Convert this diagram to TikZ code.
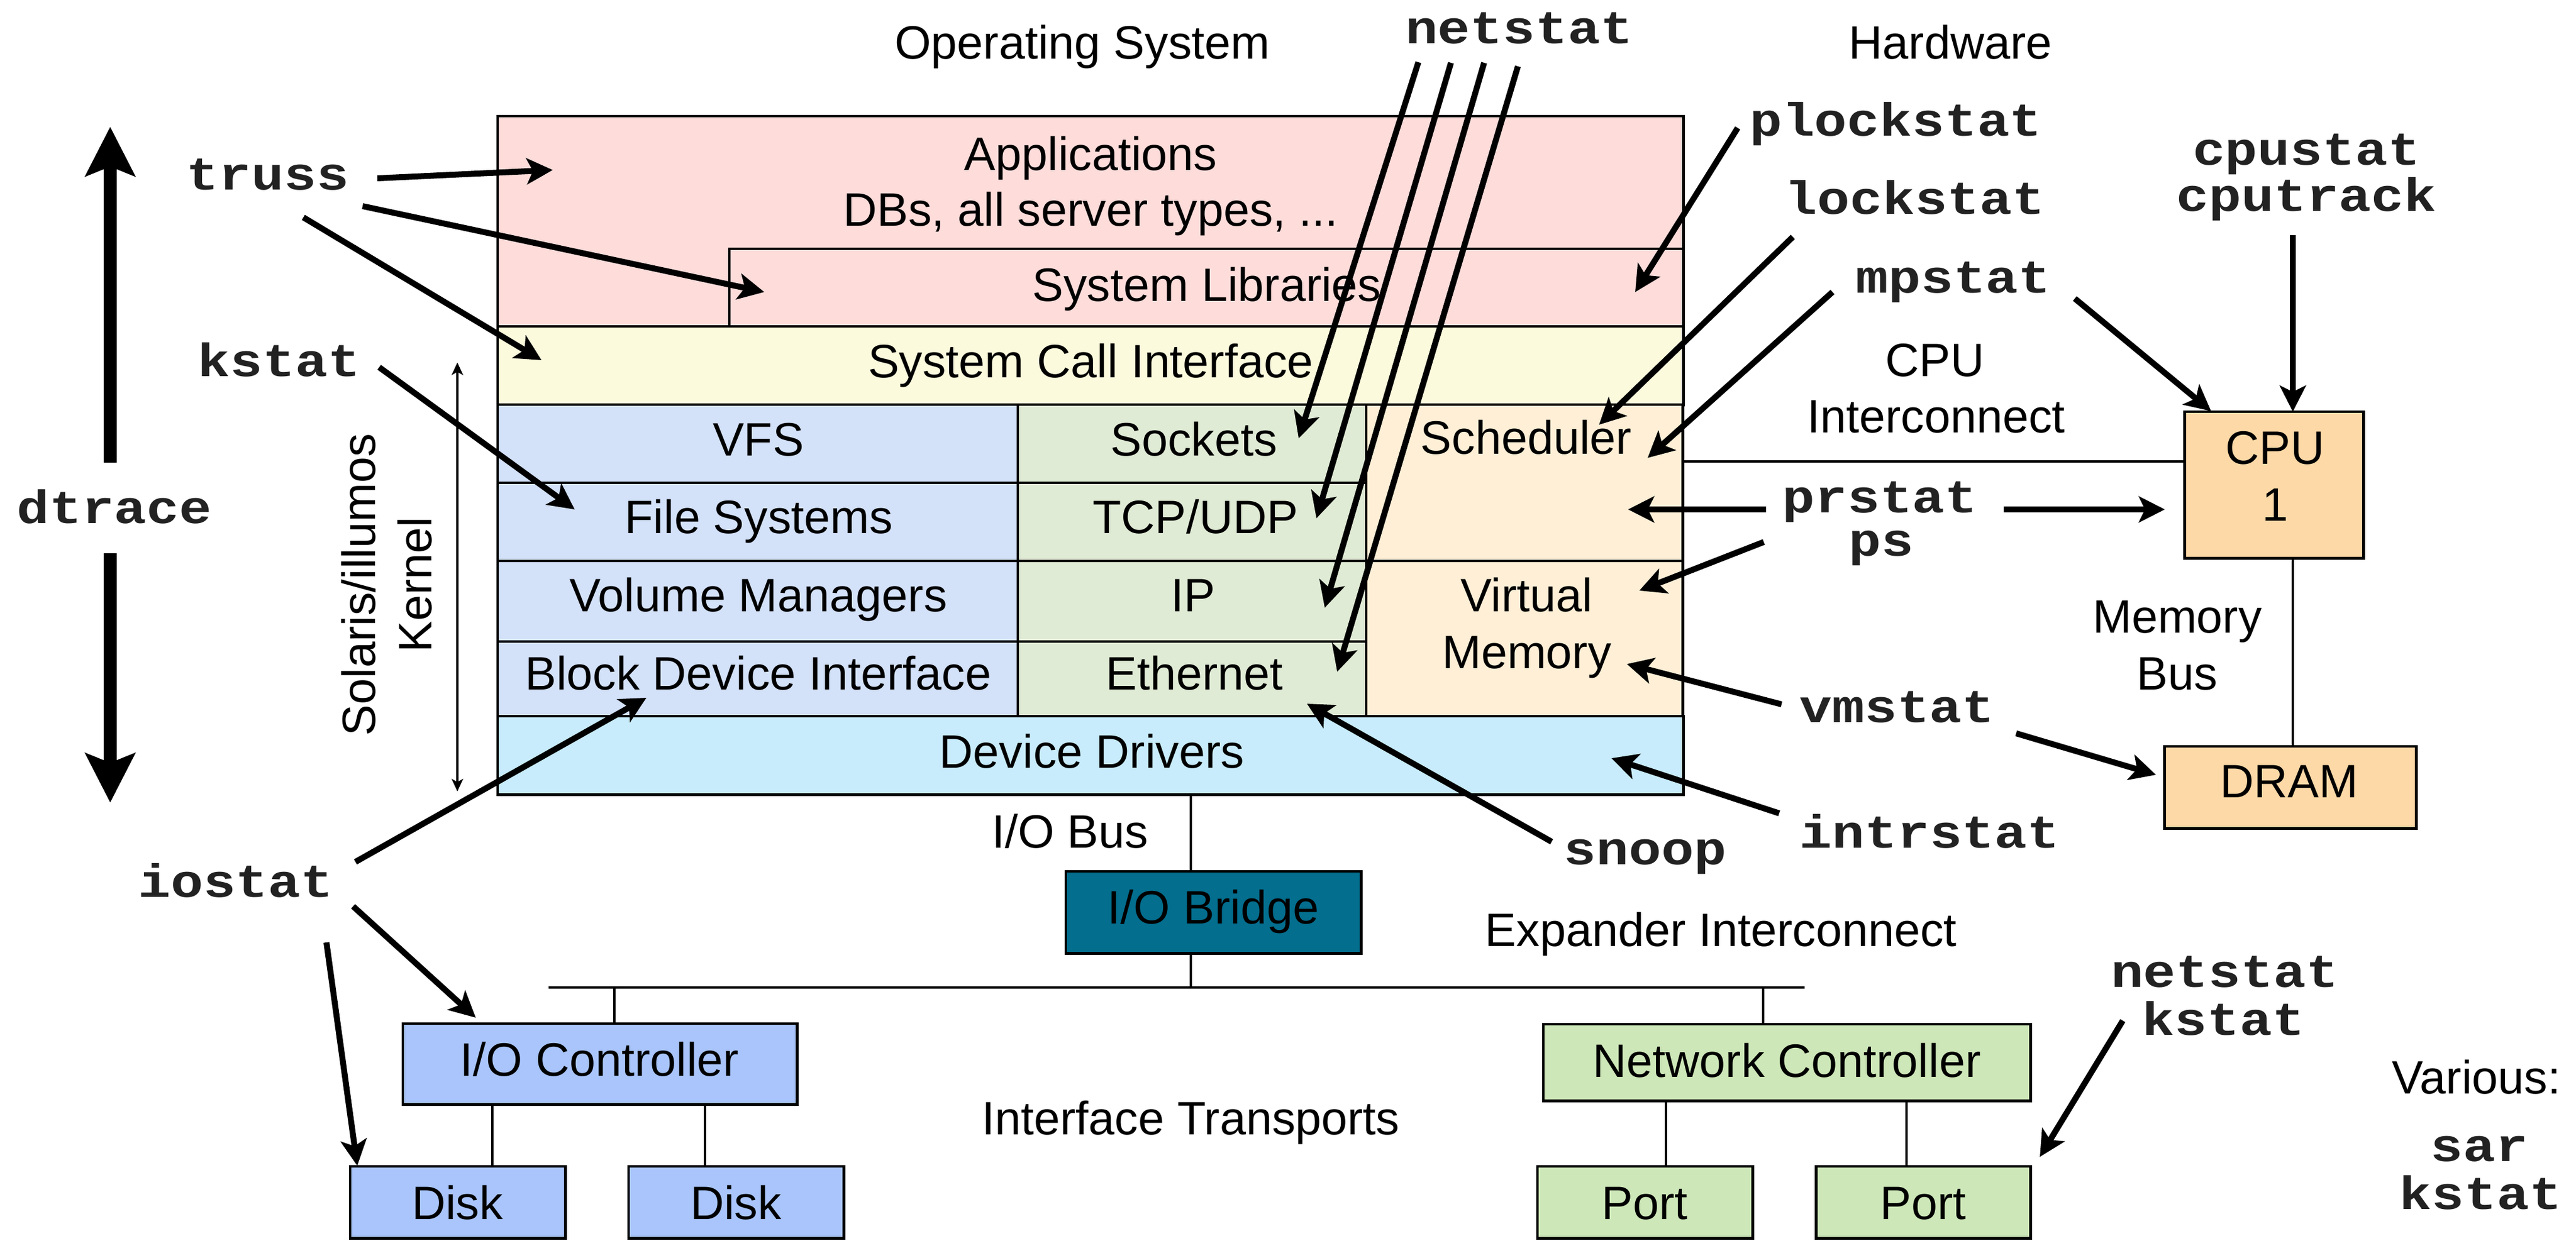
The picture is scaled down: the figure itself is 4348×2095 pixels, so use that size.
\documentclass[tikz,border=0pt]{standalone}
\usepackage{fontspec}
\setmainfont{Liberation Sans}
\newfontfamily\monof[FakeStretch=1.16]{Liberation Mono}
\usetikzlibrary{arrows.meta,calc}
\definecolor{apppink}{HTML}{FDDCDA}
\definecolor{sciyellow}{HTML}{FCFADC}
\definecolor{fsblue}{HTML}{D3E1F9}
\definecolor{netgreen}{HTML}{E0EBD5}
\definecolor{cpuorange}{HTML}{FEEFD6}
\definecolor{ddcyan}{HTML}{C8ECFB}
\definecolor{bridgeteal}{HTML}{036E8E}
\definecolor{ioblue}{HTML}{A9C5FB}
\definecolor{nicgreen}{HTML}{CDE7B8}
\definecolor{hworange}{HTML}{FDD9A7}
\definecolor{labelgray}{HTML}{222222}
\tikzset{
  cell/.style={draw=black, line width=1.4pt, rectangle, anchor=north west, inner sep=0pt, outer sep=0pt},
  txt/.style={font=\fontsize{22.5}{27}\selectfont, inner sep=0pt, anchor=base},
  mono/.style={font=\monof\bfseries\fontsize{22.4}{27}\selectfont, text=labelgray, inner sep=0pt, anchor=base},
  arr/.style={line width=2.85pt, -{Stealth[length=12.5pt,width=12.5pt,inset=3pt]}},
  bigarr/.style={line width=6.5pt, -{Stealth[length=23.6pt,width=23.6pt,inset=4.5pt]}},
  thinarr/.style={line width=0.9pt, {Stealth[length=6pt,width=5.5pt,inset=1.5pt]}-{Stealth[length=6pt,width=5.5pt,inset=1.5pt]}},
  wire/.style={line width=1.2pt},
}
\begin{document}
\begin{tikzpicture}[x=0.01cm, y=-0.01cm]
\useasboundingbox (0,0) rectangle (4348,2095);

% ---------------- helper coordinates ----------------
\coordinate (icy) at (0,779);
\coordinate (mbx) at (3870,0);
\coordinate (iobx) at (2010,0);
\coordinate (exl) at (926,1667);
\coordinate (exr) at (3046,1667);
\coordinate (iocx) at (1037,0);
\coordinate (ncx) at (2976,0);
\coordinate (d1x) at (831,0);
\coordinate (d2x) at (1190,0);
\coordinate (p1x) at (2812,0);
\coordinate (p2x) at (3218,0);

% ---------------- operating system stack ----------------
\node[cell, fill=apppink, minimum width=20cm, minimum height=3.55cm] (apps) at (840,196) {};
\node[cell, fill=apppink, minimum width=16.09cm, minimum height=1.31cm] (syslib) at (1231,420) {};
\node[cell, fill=sciyellow, minimum width=20cm, minimum height=1.32cm] (sci) at (840,551) {};
\node[cell, fill=fsblue, minimum width=8.78cm, minimum height=1.32cm] (vfs) at (840,683) {};
\node[cell, fill=fsblue, minimum width=8.78cm, minimum height=1.32cm] (fs) at (840,815) {};
\node[cell, fill=fsblue, minimum width=8.78cm, minimum height=1.36cm] (vol) at (840,947) {};
\node[cell, fill=fsblue, minimum width=8.78cm, minimum height=1.26cm] (bdi) at (840,1083) {};
\node[cell, fill=netgreen, minimum width=5.88cm, minimum height=1.32cm] (sock) at (1718,683) {};
\node[cell, fill=netgreen, minimum width=5.88cm, minimum height=1.32cm] (tcp) at (1718,815) {};
\node[cell, fill=netgreen, minimum width=5.88cm, minimum height=1.36cm] (ip) at (1718,947) {};
\node[cell, fill=netgreen, minimum width=5.88cm, minimum height=1.26cm] (eth) at (1718,1083) {};
\node[cell, fill=cpuorange, minimum width=5.34cm, minimum height=2.64cm] (sched) at (2306,683) {};
\node[cell, fill=cpuorange, minimum width=5.34cm, minimum height=2.62cm] (vm) at (2306,947) {};
\node[cell, fill=ddcyan, minimum width=20cm, minimum height=1.32cm] (dd) at (840,1209) {};

\node[txt] (tapps1) at (1841,288) {Applications};
\node[txt] (tapps2) at (1841,382) {DBs, all server types, ...};
\node[txt] (tsyslib) at (2037,509) {System Libraries};
\node[txt] (tsci) at (1841,638) {System Call Interface};
\node[txt] (tvfs) at (1280,770) {VFS};
\node[txt] (tfs) at (1281,901) {File Systems};
\node[txt] (tvol) at (1280,1033) {Volume Managers};
\node[txt] (tbdi) at (1280,1164) {Block Device Interface};
\node[txt] (tsock) at (2015,770) {Sockets};
\node[txt] (ttcp) at (2018,901) {TCP/UDP};
\node[txt] (tip) at (2014,1033) {IP};
\node[txt] (teth) at (2016,1164) {Ethernet};
\node[txt] (tsched) at (2576,767) {Scheduler};
\node[txt] (tvm1) at (2577,1033) {Virtual};
\node[txt] (tvm2) at (2577,1128) {Memory};
\node[txt] (tdd) at (1843,1296) {Device Drivers};

\node[txt] (tos) at (1827,100) {Operating System};
\node[txt] (thw) at (3292,100) {Hardware};
\node[font=\fontsize{22.5}{27}\selectfont, align=center, rotate=90, inner sep=0pt] (tkern) at (653,987) {Solaris/illumos\\Kernel};

% ---------------- hardware ----------------
\node[cell, fill=hworange, minimum width=3.02cm, minimum height=2.47cm] (cpu) at (3687,695) {};
\node[cell, fill=hworange, minimum width=4.25cm, minimum height=1.38cm] (dram) at (3653,1260) {};
\node[cell, fill=bridgeteal, minimum width=4.98cm, minimum height=1.38cm] (bridge) at (1799,1471) {};
\node[cell, fill=ioblue, minimum width=6.65cm, minimum height=1.36cm] (ioc) at (680,1728) {};
\node[cell, fill=ioblue, minimum width=3.63cm, minimum height=1.21cm] (disk1) at (591,1969) {};
\node[cell, fill=ioblue, minimum width=3.63cm, minimum height=1.21cm] (disk2) at (1061,1969) {};
\node[cell, fill=nicgreen, minimum width=8.22cm, minimum height=1.29cm] (nc) at (2605,1729) {};
\node[cell, fill=nicgreen, minimum width=3.63cm, minimum height=1.21cm] (port1) at (2595,1969) {};
\node[cell, fill=nicgreen, minimum width=3.62cm, minimum height=1.21cm] (port2) at (3065,1969) {};

\node[txt] (tcpu1) at (3840,784) {CPU};
\node[txt] (tcpu2) at (3840,880) {1};
\node[txt] (tdram) at (3864,1346) {DRAM};
\node[txt] (tbridge) at (2048,1559) {I/O Bridge};
\node[txt] (tioc) at (1012,1816) {I/O Controller};
\node[txt] (tdisk1) at (772,2058) {Disk};
\node[txt] (tdisk2) at (1242,2058) {Disk};
\node[txt] (tnc) at (3016,1818) {Network Controller};
\node[txt] (tport1) at (2776,2058) {Port};
\node[txt] (tport2) at (3246,2058) {Port};

\node[txt] (tic1) at (3266,636) {CPU};
\node[txt] (tic2) at (3268,731) {Interconnect};
\node[txt] (tmb1) at (3675,1068) {Memory};
\node[txt] (tmb2) at (3675,1164) {Bus};
\node[txt] (tiobus) at (1806,1431) {I/O Bus};
\node[txt] (texp) at (2905,1597) {Expander Interconnect};
\node[txt] (tit) at (2010,1915) {Interface Transports};
\node[txt] (tvar) at (4180,1846) {Various:};

% wires
\draw[wire] (sched.east |- icy) -- (cpu.west |- icy);
\draw[wire] (cpu.south -| mbx) -- (dram.north -| mbx);
\draw[wire] (dd.south -| iobx) -- (bridge.north -| iobx);
\draw[wire] (exl) -- (exr);
\draw[wire] (bridge.south -| iobx) -- (exl -| iobx);
\draw[wire] (exl -| iocx) -- (ioc.north -| iocx);
\draw[wire] (exl -| ncx) -- (nc.north -| ncx);
\draw[wire] (ioc.south -| d1x) -- (disk1.north -| d1x);
\draw[wire] (ioc.south -| d2x) -- (disk2.north -| d2x);
\draw[wire] (nc.south -| p1x) -- (port1.north -| p1x);
\draw[wire] (nc.south -| p2x) -- (port2.north -| p2x);

% ---------------- tool labels ----------------
\node[mono] (truss) at (452,321) {truss};
\node[mono] (kstat) at (471,636) {kstat};
\node[mono] (dtrace) at (193,884) {dtrace};
\node[mono] (iostat) at (398,1514) {iostat};
\node[mono] (netstat) at (2564,74) {netstat};
\node[mono] (plockstat) at (3200,230) {plockstat};
\node[mono] (lockstat) at (3232,362) {lockstat};
\node[mono] (mpstat) at (3297,495) {mpstat};
\node[mono] (cpustat) at (3893,279) {cpustat};
\node[mono] (cputrack) at (3893,357) {cputrack};
\node[mono] (prstat) at (3173,866) {prstat};
\node[mono] (ps) at (3175,939) {ps};
\node[mono] (vmstat) at (3202,1219) {vmstat};
\node[mono] (intrstat) at (3257,1431) {intrstat};
\node[mono] (snoop) at (2777,1459) {snoop};
\node[mono] (netstat2) at (3755,1666) {netstat};
\node[mono] (kstat2) at (3753,1747) {kstat};
\node[mono] (sar) at (4185,1960) {sar};
\node[mono] (kstat3) at (4187,2041) {kstat};

% ---------------- arrow end points ----------------
\coordinate (tr1s) at (637,301);   \coordinate (tr1e) at (933,287);
\coordinate (tr2s) at (612,348);   \coordinate (tr2e) at (1290,493);
\coordinate (tr3s) at (512,367);   \coordinate (tr3e) at (914,608);
\coordinate (kss) at (640,620);    \coordinate (kse) at (970,860);
\coordinate (io1s) at (600,1455);  \coordinate (io1e) at (1091,1178);
\coordinate (io2s) at (596,1530);  \coordinate (io2e) at (803,1718);
\coordinate (io3s) at (551,1591);  \coordinate (io3e) at (603,1968);
\coordinate (ns1s) at (2394,105);  \coordinate (ns1e) at (2192,740);
\coordinate (ns2s) at (2449,106);  \coordinate (ns2e) at (2222,875);
\coordinate (ns3s) at (2505,106);  \coordinate (ns3e) at (2236,1026);
\coordinate (ns4s) at (2562,112);  \coordinate (ns4e) at (2257,1134);
\coordinate (pls) at (2933,216);   \coordinate (ple) at (2760,493);
\coordinate (lks) at (3026,400);   \coordinate (lke) at (2699,717);
\coordinate (mp1s) at (3093,493);  \coordinate (mp1e) at (2781,773);
\coordinate (mp2s) at (3502,504);  \coordinate (mp2e) at (3732,694);
\coordinate (cts) at (3870,397);
\coordinate (pr1s) at (2981,860);  \coordinate (pr1e) at (2748,860);
\coordinate (pr2s) at (3382,860);  \coordinate (pr2e) at (3654,860);
\coordinate (pss) at (2977,915);   \coordinate (pse) at (2767,997);
\coordinate (vm1s) at (3007,1189); \coordinate (vm1e) at (2746,1121);
\coordinate (vm2s) at (3403,1238); \coordinate (vm2e) at (3639,1308);
\coordinate (ins) at (3003,1373);  \coordinate (ine) at (2720,1280);
\coordinate (sns) at (2619,1421);  \coordinate (sne) at (2206,1188);
\coordinate (nks) at (3583,1723);  \coordinate (nke) at (3443,1953);
\coordinate (dtu) at (186,781);    \coordinate (dtut) at (186,214);
\coordinate (dtd) at (186,934);    \coordinate (dtdt) at (186,1355);
\coordinate (kt) at (772,612);     \coordinate (kb) at (772,1336);

% ---------------- arrows ----------------
\draw[arr] (tr1s) -- (tr1e);
\draw[arr] (tr2s) -- (tr2e);
\draw[arr] (tr3s) -- (tr3e);
\draw[arr] (kss) -- (kse);
\draw[arr] (io1s) -- (io1e);
\draw[arr] (io2s) -- (io2e);
\draw[arr] (io3s) -- (io3e);
\draw[arr] (ns1s) -- (ns1e);
\draw[arr] (ns2s) -- (ns2e);
\draw[arr] (ns3s) -- (ns3e);
\draw[arr] (ns4s) -- (ns4e);
\draw[arr] (pls) -- (ple);
\draw[arr] (lks) -- (lke);
\draw[arr] (mp1s) -- (mp1e);
\draw[arr] (mp2s) -- (mp2e);
\draw[arr] (cts) -- (cts |- cpu.north);
\draw[arr] (pr1s) -- (pr1e);
\draw[arr] (pr2s) -- (pr2e);
\draw[arr] (pss) -- (pse);
\draw[arr] (vm1s) -- (vm1e);
\draw[arr] (vm2s) -- (vm2e);
\draw[arr] (ins) -- (ine);
\draw[arr] (sns) -- (sne);
\draw[arr] (nks) -- (nke);
\draw[bigarr] (dtu) -- (dtut);
\draw[bigarr] (dtd) -- (dtdt);
\draw[thinarr] (kb) -- (kt);
\end{tikzpicture}
\end{document}
